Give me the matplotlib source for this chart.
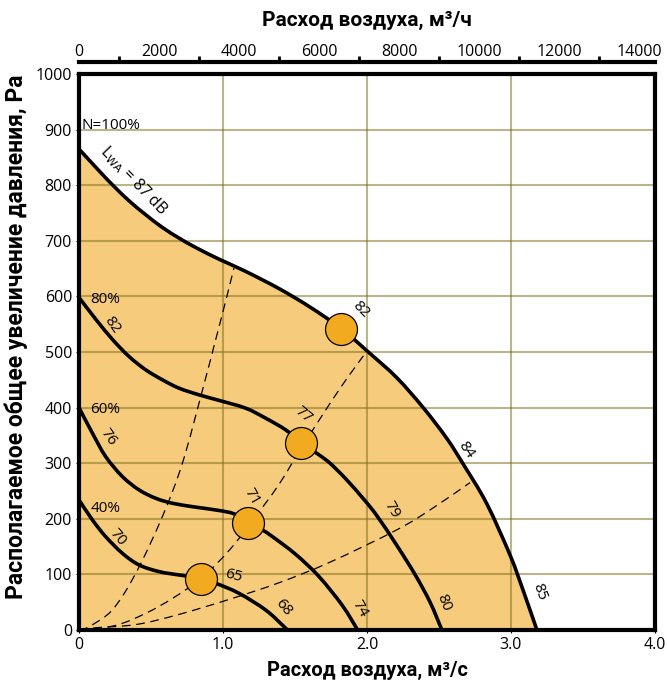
import matplotlib
matplotlib.use("Agg")
import matplotlib.pyplot as plt
from matplotlib.path import Path
from matplotlib.patches import PathPatch
from matplotlib.ticker import MultipleLocator

# --- данные (x: м3/с, y: Па) ---
n100_x = [0, 0.139, 0.231, 0.347, 0.463, 0.579, 0.694, 0.810, 0.972, 1.157, 1.389, 1.597, 1.817,
          2.009, 2.206, 2.39, 2.553, 2.669, 2.83, 2.993, 3.086, 3.18]
n100_y = [865, 826, 801, 772, 747, 724, 705, 688, 667, 645, 614, 582, 543,
          500, 454, 400, 345, 298, 228, 135, 70, 0]

n80_x = [0, 0.116, 0.231, 0.347, 0.463, 0.579, 0.694, 0.833, 0.972, 1.157, 1.296, 1.435, 1.539,
         1.667, 1.743, 1.852, 1.975, 2.07, 2.20, 2.333, 2.438, 2.52]
n80_y = [598, 559, 523, 492, 468, 450, 435, 423, 413, 399, 381, 360, 338,
         315, 300, 272, 236, 205, 155, 100, 50, 0]

n60_x = [0, 0.093, 0.185, 0.301, 0.417, 0.532, 0.648, 0.81, 0.972, 1.076, 1.174, 1.273, 1.343,
         1.505, 1.667, 1.829, 1.935]
n60_y = [400, 354, 312, 276, 252, 237, 228, 221, 215, 209, 195, 180, 168,
         136, 96, 44, 0]

n40_x = [0, 0.093, 0.185, 0.301, 0.417, 0.556, 0.694, 0.745, 0.849, 0.949, 1.111, 1.296, 1.424, 1.447]
n40_y = [234, 198, 168, 138, 117, 105, 99, 97, 91, 84, 66, 36, 6, 0]

sys1_x = [0, 0.069, 0.231, 0.394, 0.579, 0.718, 0.856, 0.949, 1.019, 1.076]
sys1_y = [0, 6, 36, 102, 204, 300, 430, 522, 592, 651]
sys2_x = [0, 0.25, 0.463, 0.65, 0.849, 1.042, 1.2, 1.389, 1.55, 1.806, 2.0]
sys2_y = [0, 8, 30, 57, 93, 143, 195, 262, 330, 432, 502]
sys3_x = [0, 0.116, 0.4, 0.694, 1.042, 1.389, 1.743, 2.206, 2.45, 2.715]
sys3_y = [0, 4, 10, 28, 55, 85, 122, 180, 218, 265]

pts_x = [0.849, 1.174, 1.539, 1.817]
pts_y = [91, 193, 336, 542]

# подписи: (текст, x, y, поворот)
labels = [
    ("82", 0.23, 549, -55), ("76", 0.20, 347, -55), ("70", 0.264, 167, -50),
    ("65", 1.07, 97, -15), ("68", 1.42, 40, -50), ("74", 1.95, 38, -60),
    ("80", 2.53, 49, -68), ("85", 3.20, 68, -70), ("84", 2.69, 324, -55),
    ("79", 2.17, 216, -60), ("71", 1.20, 240, -60), ("77", 1.56, 386, -40),
    ("82", 1.96, 576, -45),
]
pct_labels = [("N=100%", 0.015, 908), ("80%", 0.076, 594), ("60%", 0.08, 396), ("40%", 0.08, 219)]

xticks = [0, 1, 2, 3, 4]
xtick_labels = ["0", "1.0", "2.0", "3.0", "4.0"]


def smooth_path(xs, ys, close_to=None):
    # кривая Катмулла-Рома через снятые точки, как кубические сегменты Безье
    p = list(zip(xs, ys))
    verts = [p[0]]
    codes = [Path.MOVETO]
    n = len(p)
    for i in range(n - 1):
        p0 = p[i - 1] if i > 0 else p[i]
        p1, p2 = p[i], p[i + 1]
        p3 = p[i + 2] if i + 2 < n else p[i + 1]
        c1 = (p1[0] + (p2[0] - p0[0]) / 6, p1[1] + (p2[1] - p0[1]) / 6)
        c2 = (p2[0] - (p3[0] - p1[0]) / 6, p2[1] - (p3[1] - p1[1]) / 6)
        verts += [c1, c2, p2]
        codes += [Path.CURVE4] * 3
    if close_to is not None:
        verts += [close_to, (0, 0)]
        codes += [Path.LINETO, Path.CLOSEPOLY]
    return Path(verts, codes)


plt.rcParams['font.family'] = ['Open Sans', 'DejaVu Sans']

fig = plt.figure(figsize=(6.67, 6.88), dpi=100)
ax = fig.add_axes([79/667, 58/688, 576/667, 556/688])

ax.add_patch(PathPatch(smooth_path(n100_x, n100_y, close_to=(0, 0)),
                       facecolor='#f6cc7c', edgecolor='none', zorder=0.3))
ax.set_axisbelow(True)
ax.grid(True, color='#7a6a1a', alpha=0.5, lw=1.5)

for cx, cy in [(n100_x, n100_y), (n80_x, n80_y), (n60_x, n60_y), (n40_x, n40_y)]:
    ax.add_patch(PathPatch(smooth_path(cx, cy), facecolor='none', edgecolor='black',
                           lw=2.6, zorder=3, capstyle='butt'))
for cx, cy in [(sys1_x, sys1_y), (sys2_x, sys2_y), (sys3_x, sys3_y)]:
    ax.add_patch(PathPatch(smooth_path(cx, cy), facecolor='none', edgecolor='black',
                           lw=0.9, ls=(0, (7, 4.5)), zorder=2))

ax.plot(pts_x, pts_y, ls='none', marker='o', ms=23, mfc='#f2ab20', mec='black', mew=0.9, zorder=5)

for t, x, y, r in labels:
    ax.text(x, y, t, rotation=r, ha='center', va='center', rotation_mode='anchor',
            fontsize=11, zorder=6)
for t, x, y in pct_labels:
    ax.text(x, y, t, ha='left', va='center', fontsize=11, zorder=6)
ax.text(0.378, 808, r"L$_{\mathrm{WA}}$ = 87 dB", rotation=-46, ha='center', va='center',
        rotation_mode='anchor', fontsize=11.5, zorder=6)

ax.set_xlim(0, 4)
ax.set_ylim(0, 1000)
ax.set_xticks(xticks)
ax.set_xticklabels(xtick_labels)
ax.yaxis.set_major_locator(MultipleLocator(100))
ax.tick_params(length=2, width=0.8, labelsize=11.5, pad=3)
for s in ax.spines.values():
    s.set_linewidth(3)

ax.set_xlabel("Расход воздуха, м³/с", fontsize=14.5, fontweight='bold', family='Roboto', labelpad=6)
ax.set_ylabel("Располагаемое общее увеличение давления, Pa", fontsize=16.5, fontweight='bold',
              family='Roboto')
ax.yaxis.set_label_coords(-0.088, 0.527)

# верхняя ось в м3/ч
ax_top = ax.twiny()
ax_top.set_xlim(0, 4 * 3600)
ax_top.xaxis.set_major_locator(MultipleLocator(2000))
ax_top.xaxis.set_minor_locator(MultipleLocator(1000))
for side in ['bottom', 'left', 'right']:
    ax_top.spines[side].set_visible(False)
ax_top.spines['top'].set_position(('outward', 9))
ax_top.spines['top'].set_linewidth(3)
ax_top.tick_params(axis='x', which='both', length=4, width=2, direction='out', labelsize=11.5, pad=1)
ax_top.tick_params(axis='x', which='major', length=0)
ax_top.set_xlabel("Расход воздуха, м³/ч", fontsize=15, fontweight='bold', family='Roboto', labelpad=13)

fig.savefig("out.png", dpi=100)
